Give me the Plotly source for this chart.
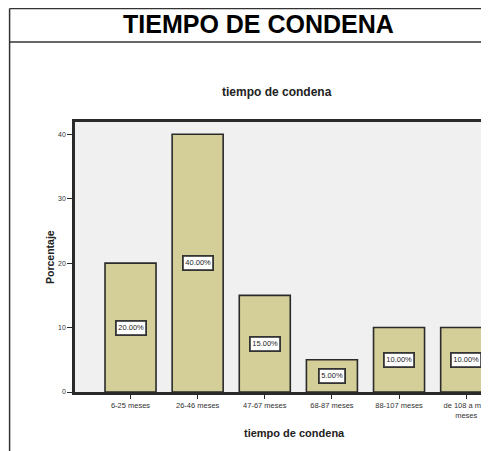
import plotly.graph_objects as go

categories = ["6-25 meses", "26-46 meses", "47-67 meses", "68-87 meses", "88-107 meses", "de 108 a más<br>meses"]
percentages = [20.0, 40.0, 15.0, 5.0, 10.0, 10.0]
bar_labels = ["20.00%", "40.00%", "15.00%", "5.00%", "10.00%", "10.00%"]
y_ticks = [0, 10, 20, 30, 40]

FONT = "Liberation Sans, Arial, sans-serif"
DARK = "#2a2a2a"

fig = go.Figure()
fig.add_trace(go.Bar(
    x=categories,
    y=percentages,
    width=0.76,
    marker=dict(color="#d4cf98", line=dict(color=DARK, width=1.6)),
    hoverinfo="skip",
))

annotations = []
for c, v, t in zip(categories, percentages, bar_labels):
    annotations.append(dict(
        x=c, y=v / 2, xref="x", yref="y", text=t, showarrow=False,
        font=dict(family=FONT, size=7.5, color="#222"),
        bgcolor="white", bordercolor="#333", borderwidth=1.8, borderpad=1.5,
    ))

# titles
annotations += [
    dict(text="<b>TIEMPO DE CONDENA</b>", x=0.4444, y=1.363, xref="paper", yref="paper",
         showarrow=False, font=dict(family=FONT, size=25, color="black"),
         xanchor="center", yanchor="middle"),
    dict(text="<b>tiempo de condena</b>", x=0.488, y=1.111, xref="paper", yref="paper",
         showarrow=False, font=dict(family=FONT, size=12, color="#222"),
         xanchor="center", yanchor="middle"),
    dict(text="<b>tiempo de condena</b>", x=0.531, y=-0.152, xref="paper", yref="paper",
         showarrow=False, font=dict(family=FONT, size=11, color="#222"),
         xanchor="center", yanchor="middle"),
    dict(text="<b>Porcentaje</b>", x=-0.0604, y=0.5, xref="paper", yref="paper",
         showarrow=False, textangle=-90, font=dict(family=FONT, size=10.5, color="#222"),
         xanchor="center", yanchor="middle"),
]

shapes = [
    dict(type="line", xref="paper", yref="paper", x0=-0.158, x1=-0.158, y0=1.42, y1=-0.25,
         line=dict(color="#333", width=1.5)),
    dict(type="line", xref="paper", yref="paper", x0=-0.158, x1=1.01, y0=1.42, y1=1.42,
         line=dict(color="#333", width=1.5)),
    dict(type="line", xref="paper", yref="paper", x0=-0.158, x1=1.01, y0=1.2963, y1=1.2963,
         line=dict(color="#333", width=1.5)),
]

fig.update_layout(
    width=481, height=443,
    margin=dict(l=67, r=0, t=114, b=59),
    paper_bgcolor="white",
    plot_bgcolor="#f0f0f0",
    showlegend=False,
    annotations=annotations,
    shapes=shapes,
    font=dict(family=FONT, size=7, color="#333"),
    bargap=0.24,
)
fig.update_xaxes(
    type="category", range=[-0.827, 5.34],
    showline=True, linecolor=DARK, linewidth=2.5, mirror=True,
    ticks="outside", ticklen=4, tickcolor=DARK, tickwidth=1,
    tickfont=dict(family=FONT, size=7.5, color="#333"),
    showgrid=False, zeroline=False, tickangle=0,
)
fig.update_yaxes(
    range=[0, 41.9], tickvals=y_ticks,
    showline=True, linecolor=DARK, linewidth=2.5, mirror=False,
    ticks="outside", ticklen=5, tickcolor=DARK, tickwidth=1,
    tickfont=dict(family=FONT, size=7, color="#333"),
    showgrid=False, zeroline=False,
)

fig.write_html("out.html", config={"displayModeBar": False})
